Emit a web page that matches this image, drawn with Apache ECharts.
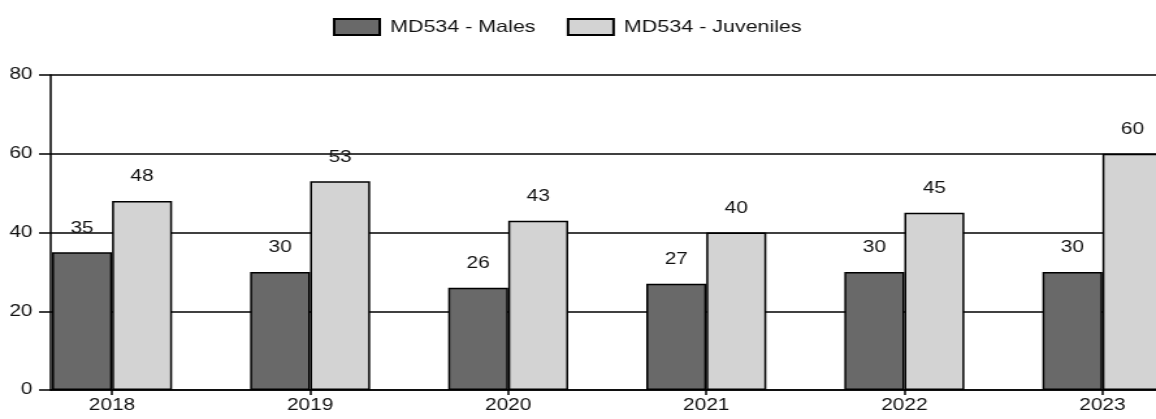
<!DOCTYPE html>
<html>
<head>
<meta charset="utf-8">
<script src="https://cdn.jsdelivr.net/npm/echarts@6/dist/echarts.min.js"></script>
<style>
  html, body { margin: 0; padding: 0; background: #fff; overflow: hidden; }
  /* the source picture is stretched sideways, so draw narrow and widen;
     the plot runs past the right edge of the window like in the source */
  #chart { width: 940px; height: 419px; transform: scaleX(1.3003); transform-origin: 0 0; }
</style>
</head>
<body>
<div id="chart"></div>
<script>
const years = ["2018", "2019", "2020", "2021", "2022", "2023"];
const males = [35, 30, 26, 27, 30, 30];
const juveniles = [48, 53, 43, 40, 45, 60];
const seriesNames = ["MD534 - Males", "MD534 - Juveniles"];
const yMin = 0;
const yMax = 80;
const yStep = 20;

const font = "'Liberation Sans', Arial, sans-serif";
const textColor = "#111";

const chart = echarts.init(document.getElementById("chart"), null, { renderer: "canvas" });

const barLabel = {
  show: true,
  position: "top",
  distance: 16,
  color: textColor,
  fontFamily: font,
  fontSize: 16,
};

chart.setOption({
  animation: false,
  legend: {
    top: 13,
    left: 251,
    itemWidth: 35,
    itemHeight: 16,
    itemGap: 24,
    icon: "rect",
    textStyle: { color: textColor, fontFamily: font, fontSize: 16.5, padding: [0, 0, 0, 3] },
    data: seriesNames,
  },
  grid: [
    // frame: y axis, gridlines, base line
    { left: 39, right: 0, top: 75, bottom: 29, containLabel: false },
    // bars: groups spaced like the source, last one cut by the window
    { left: 10, width: 914, top: 75, bottom: 29, containLabel: false },
  ],
  xAxis: [
    {
      gridIndex: 0,
      type: "category",
      data: years,
      axisLine: { lineStyle: { color: "#000", width: 1.5 } },
      axisTick: { show: false },
      axisLabel: { show: false },
      splitLine: { show: false },
    },
    {
      gridIndex: 1,
      type: "category",
      data: years,
      axisLine: { show: false },
      axisTick: { show: true, alignWithLabel: true, length: 5, lineStyle: { color: "#000", width: 1.5 } },
      axisLabel: { color: textColor, fontFamily: font, fontSize: 16, margin: 8 },
      splitLine: { show: false },
    },
  ],
  yAxis: [
    {
      gridIndex: 0,
      type: "value",
      min: yMin,
      max: yMax,
      interval: yStep,
      axisLine: { show: true, lineStyle: { color: "#000", width: 1.5 } },
      axisTick: { show: true, length: 9, lineStyle: { color: "#000", width: 1.5 } },
      axisLabel: { color: textColor, fontFamily: font, fontSize: 16, margin: 14 },
      splitLine: { show: true, lineStyle: { color: "#000", width: 1.5 } },
    },
    {
      gridIndex: 1,
      type: "value",
      min: yMin,
      max: yMax,
      interval: yStep,
      show: false,
      splitLine: { show: false },
    },
  ],
  series: [
    {
      name: seriesNames[0],
      type: "bar",
      xAxisIndex: 1,
      yAxisIndex: 1,
      barWidth: 46.15,
      barGap: 0,
      data: males,
      itemStyle: { color: "#696969", borderColor: "#000", borderWidth: 1.5 },
      label: barLabel,
    },
    {
      name: seriesNames[1],
      type: "bar",
      xAxisIndex: 1,
      yAxisIndex: 1,
      barWidth: 46.15,
      barGap: 0,
      data: juveniles,
      itemStyle: { color: "#d3d3d3", borderColor: "#000", borderWidth: 1.5 },
      label: barLabel,
    },
  ],
});
</script>
</body>
</html>
